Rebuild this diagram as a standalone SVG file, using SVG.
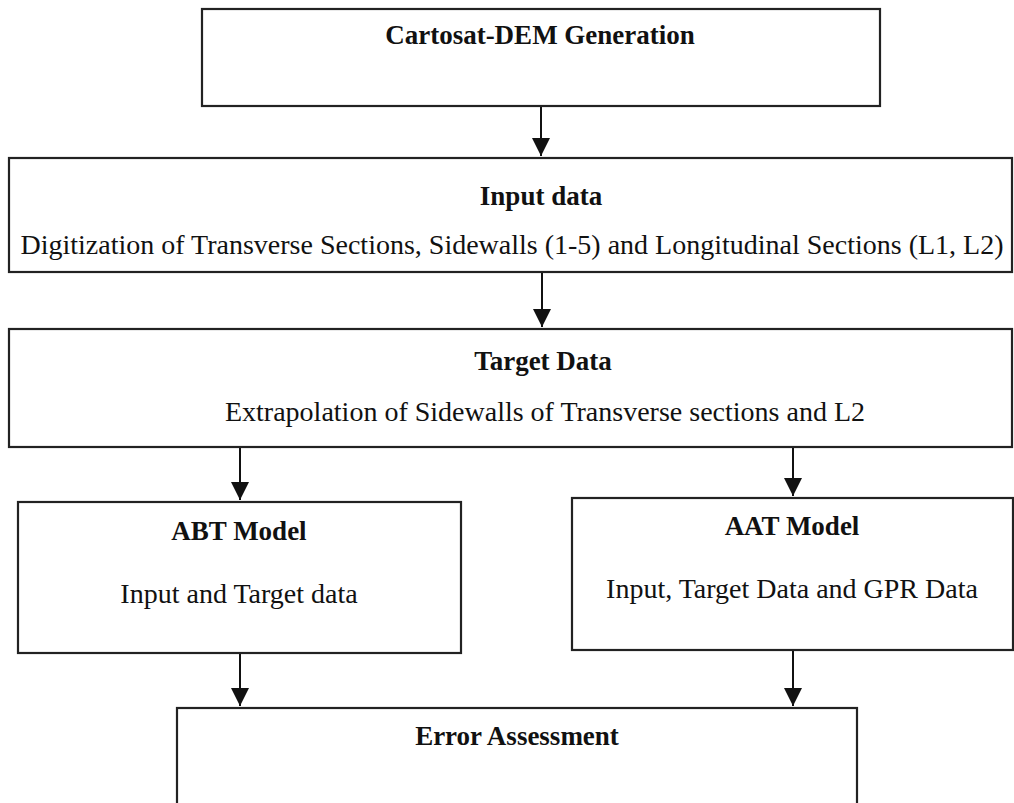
<svg xmlns="http://www.w3.org/2000/svg" width="1014" height="803" viewBox="0 0 1014 803">
<style>
.box{fill:#fff;stroke:#222;stroke-width:2.2}
.t{font-family:"Liberation Serif","Times New Roman",serif;fill:#111;text-anchor:middle}
.b{font-weight:bold;font-size:27px}
.r{font-size:28px}
.c{stroke:#111;stroke-width:2;fill:none;marker-end:url(#ah)}
</style>
<defs>
<marker id="ah" markerUnits="userSpaceOnUse" markerWidth="18" markerHeight="18" viewBox="0 0 18 18" refX="18" refY="9" orient="auto">
<path d="M0,0 L18,9 L0,18 Z" fill="#111"/>
</marker>
</defs>
<rect width="1014" height="803" fill="#fff"/>
<g id="connectors">
<line class="c" x1="541" y1="106" x2="541" y2="156"/>
<line class="c" x1="542" y1="272" x2="542" y2="327"/>
<line class="c" x1="240" y1="447" x2="240" y2="500"/>
<line class="c" x1="793" y1="447" x2="793" y2="496"/>
<line class="c" x1="240" y1="653" x2="240" y2="706"/>
<line class="c" x1="793" y1="650" x2="793" y2="706"/>
</g>
<g id="n1">
<rect class="box" x="202" y="9" width="678" height="97"/>
<text class="t b" x="540" y="44">Cartosat-DEM Generation</text>
</g>
<g id="n2">
<rect class="box" x="9" y="158" width="1003" height="114"/>
<text class="t b" x="541" y="205">Input data</text>
<text class="t r" x="512" y="254">Digitization of Transverse Sections, Sidewalls (1-5) and Longitudinal Sections (L1, L2)</text>
</g>
<g id="n3">
<rect class="box" x="9" y="329" width="1003" height="118"/>
<text class="t b" x="543" y="370">Target Data</text>
<text class="t r" x="545" y="421">Extrapolation of Sidewalls of Transverse sections and L2</text>
</g>
<g id="n4">
<rect class="box" x="18" y="502" width="443" height="151"/>
<text class="t b" x="239" y="540">ABT Model</text>
<text class="t r" x="239" y="603">Input and Target data</text>
</g>
<g id="n5">
<rect class="box" x="572" y="498" width="441" height="152"/>
<text class="t b" x="792" y="535">AAT Model</text>
<text class="t r" x="792" y="598">Input, Target Data and GPR Data</text>
</g>
<g id="n6">
<rect class="box" x="177" y="708" width="680" height="110"/>
<text class="t b" x="517" y="745">Error Assessment</text>
</g>
</svg>
